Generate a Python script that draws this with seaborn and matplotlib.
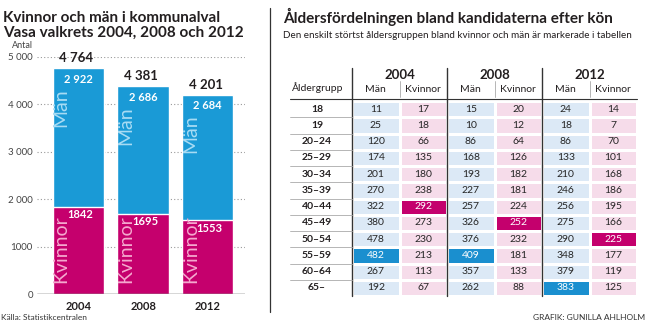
import numpy as np
import pandas as pd
import matplotlib
matplotlib.use("Agg")
import matplotlib.pyplot as plt
import matplotlib.transforms as mtransforms
from matplotlib.colors import ListedColormap
from matplotlib.lines import Line2D
import seaborn as sns

# ---------------- data ----------------
years = ["2004", "2008", "2012"]
man = [2922, 2686, 2684]
kvinnor = [1842, 1695, 1553]
totals = [4764, 4381, 4201]
ytick_values = [0, 1000, 2000, 3000, 4000, 5000]
ytick_labels = ["0", "1000", "2 000", "3 000", "4 000", "5 000"]

age_groups = ["18", "19", "20–24", "25–29", "30–34", "35–39", "40–44",
              "45–49", "50–54", "55–59", "60–64", "65–"]
man_2004 = [11, 25, 120, 174, 201, 270, 322, 380, 478, 482, 267, 192]
kv_2004 = [17, 18, 66, 135, 180, 238, 292, 273, 230, 213, 113, 67]
man_2008 = [15, 10, 86, 168, 193, 227, 257, 326, 376, 409, 357, 262]
kv_2008 = [20, 12, 64, 126, 182, 181, 224, 252, 232, 181, 133, 88]
man_2012 = [24, 18, 86, 133, 210, 246, 256, 275, 290, 348, 379, 383]
kv_2012 = [14, 7, 70, 101, 168, 186, 195, 166, 225, 177, 119, 125]

# ---------------- style ----------------
sns.set_theme(style="white")
FONT = ["Liberation Sans Narrow", "Lato", "DejaVu Sans"]
plt.rcParams["font.family"] = FONT

W, H = 647, 321
BLUE = "#1a9ad6"
MAG = "#c5006d"
DARK = "#231f20"

fig = plt.figure(figsize=(W / 100, H / 100), dpi=100)
fig.patch.set_facecolor("white")


def box(x0, y0, x1, y1):
    return [x0 / W, 1 - y1 / H, (x1 - x0) / W, (y1 - y0) / H]


# ---------------- left: stacked bars ----------------
ax = fig.add_axes(box(37, 57, 245, 294))
df = pd.DataFrame({"year": years, "total": totals, "kvinnor": kvinnor, "man": man})
sns.barplot(data=df, x="year", y="total", color=BLUE, saturation=1, width=0.8, ax=ax, zorder=2)
sns.barplot(data=df, x="year", y="kvinnor", color=MAG, saturation=1, width=0.8, ax=ax, zorder=3)
ax.set_xlim(-0.643, 2.58)
ax.set_ylim(0, 5000)
ax.set_yticks(ytick_values)
ax.set_yticklabels(ytick_labels, fontsize=7, color="#444")
ax.set_xticks(range(len(years)))
ax.set_xticklabels(years, fontsize=8, fontweight="bold", color=DARK)
ax.tick_params(axis="both", length=0)
ax.tick_params(axis="y", pad=3)
ax.tick_params(axis="x", pad=5)
ax.set_xlabel("")
ax.set_ylabel("")
for s in ax.spines.values():
    s.set_visible(False)
for v in ytick_values[1:]:
    ax.axhline(v, color="#999", lw=0.8, ls=(0, (1, 2)), zorder=1)
ax.axhline(0, color="#333", lw=1.0, zorder=4)
ax.patch.set_alpha(0)


def off(dx, dy):
    return mtransforms.offset_copy(ax.transData, fig=fig, x=dx, y=dy, units="dots")


def fmt_space(v):
    return f"{v:,}".replace(",", " ")


for i in range(len(years)):
    ax.text(i, totals[i], fmt_space(totals[i]), transform=off(-2, 10),
            ha="center", va="center", fontsize=9.5, fontweight="bold", color=DARK, zorder=5)
    ax.text(i, totals[i], fmt_space(man[i]), transform=off(0, -11),
            ha="center", va="center", fontsize=8, fontweight="bold", color="white", zorder=5)
    ax.text(i, kvinnor[i], str(kvinnor[i]), transform=off(2, -8),
            ha="center", va="center", fontsize=8, fontweight="bold", color="white", zorder=5)
    ax.text(i - 0.4, totals[i], "Män", transform=off(8.5, -20),
            ha="center", va="top", rotation=90, fontsize=14, color="#a9dcf4", zorder=5,
            family=["Lato", "DejaVu Sans"])
    ax.text(i - 0.4, 0, "Kvinnor", transform=off(8.5, 11),
            ha="center", va="bottom", rotation=90, fontsize=14, color="#f5a9cf", zorder=5,
            family=["Lato", "DejaVu Sans"])

fig.text(12 / W, 1 - 46 / H, "Antal", fontsize=6.5, color="#444", va="center", ha="left")
fig.text(3 / W, 1 - 22.5 / H, "Kvinnor och män i kommunalval", fontsize=11,
         fontweight="bold", color=DARK, va="baseline", ha="left")
fig.text(3 / W, 1 - 36.5 / H, "Vasa valkrets 2004, 2008 och 2012", fontsize=11,
         fontweight="bold", color=DARK, va="baseline", ha="left")
fig.text(1 / W, 1 - 317 / H, "Källa: Statistikcentralen", fontsize=6, color="#333",
         va="center", ha="left")

# divider
fig.add_artist(Line2D([269.5 / W, 269.5 / W], [1 - 8 / H, 1 - 312 / H],
                      color="#333", lw=0.9, transform=fig.transFigure))

# ---------------- right: table ----------------
fig.text(283 / W, 1 - 22.5 / H, "Åldersfördelningen bland kandidaterna efter kön",
         fontsize=11, fontweight="bold", color=DARK, va="baseline", ha="left")
fig.text(283 / W, 1 - 38 / H,
         "Den enskilt störtst åldersgruppen bland kvinnor och män är markerade i tabellen",
         fontsize=7.1, color=DARK, va="baseline", ha="left")
fig.text(645 / W, 1 - 317 / H, "GRAFIK: GUNILLA AHLHOLM", fontsize=6, color="#333",
         va="center", ha="right")

values = np.array([man_2004, kv_2004, man_2008, kv_2008, man_2012, kv_2012]).T
ncol = values.shape[1]
codes = np.tile(np.array([0, 1] * 3), (values.shape[0], 1))
for j in range(ncol):
    codes[np.argmax(values[:, j]), j] += 2

TOP, BOT, L, R = 101, 296, 352, 637
tax = fig.add_axes(box(L, TOP, R, BOT))
cmap = ListedColormap(["#dce9f6", "#f6dcea", "#1a8fcf", "#c4006d"])
sns.heatmap(codes, cmap=cmap, vmin=-0.5, vmax=3.5, annot=values, fmt="d", cbar=False,
            linewidths=0.9, linecolor="white", xticklabels=False, yticklabels=False,
            annot_kws={"fontsize": 7.5, "family": ["Lato", "DejaVu Sans"]}, ax=tax)
tax.set_xlabel("")
tax.set_ylabel("")

colw = (R - L) / ncol
rowh = (BOT - TOP) / len(age_groups)


def px_x(x):
    return (x - L) / colw


def px_y(y):
    return (y - TOP) / rowh


# dark vertical lines
for x in [0, 2, 4]:
    tax.plot([x, x], [px_y(68), len(age_groups)], color="#333", lw=1.0, clip_on=False)
# light separators in header
for x in [1, 3, 5]:
    tax.plot([x, x], [px_y(81), px_y(97)], color="#aaa", lw=0.6, clip_on=False)
# header bottom line
tax.plot([px_x(290), ncol], [px_y(98.5), px_y(98.5)], color="#333", lw=0.8, clip_on=False)
# row separators in label column
for r in range(1, len(age_groups)):
    tax.plot([px_x(290), 0], [r, r], color="#aaa", lw=0.6, clip_on=False)

for r, g in enumerate(age_groups):
    tax.text(px_x(317), r + 0.5, g, ha="center", va="center", fontsize=7.5,
             fontweight="bold", color=DARK, family=["Lato", "DejaVu Sans"])
tax.text(px_x(318), px_y(88), "Åldergrupp", ha="center", va="center", fontsize=7.5, color=DARK,
         family=["Lato", "DejaVu Sans"])
for k, y in enumerate(years):
    tax.text(2 * k + 1, px_y(75), y, ha="center", va="center", fontsize=9.5,
             fontweight="bold", color=DARK, family=["Lato", "DejaVu Sans"])
    tax.text(2 * k + 0.5, px_y(89), "Män", ha="center", va="center", fontsize=7.5, color=DARK,
             family=["Lato", "DejaVu Sans"])
    tax.text(2 * k + 1.5, px_y(89), "Kvinnor", ha="center", va="center", fontsize=7.5, color=DARK,
             family=["Lato", "DejaVu Sans"])

fig.savefig("out.png", dpi=100, facecolor="white")
